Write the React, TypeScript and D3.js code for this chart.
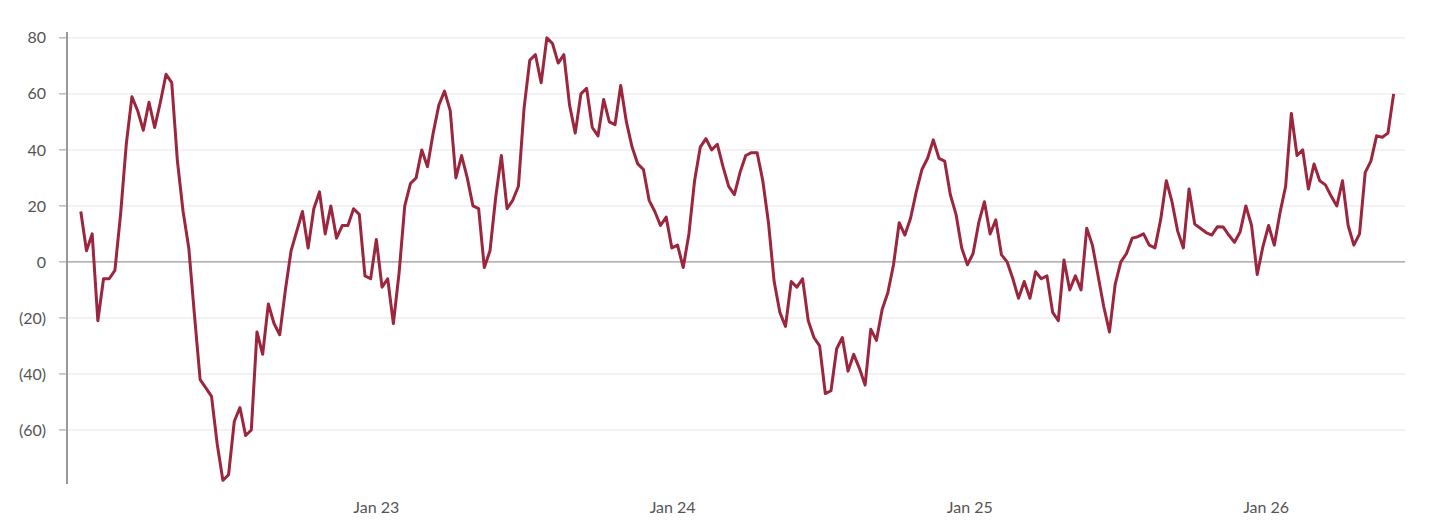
import React from 'react';
import * as d3 from 'd3';

// weekly readings, first week starts Jan 2 2022
const values2022 = [
  18, 4, 10, -21, -6, -6, -3, 17, 42, 59, 54, 47, 57, 48, 57, 67, 64, 36, 18, 5,
  -19, -42, -45, -48, -65, -78, -76, -57, -52, -62, -60, -25, -33, -15, -22, -26,
  -10, 4, 11, 18, 5, 19, 25, 10, 20, 8.5, 13, 13, 19, 17, -5, -6,
];
const values2023 = [
  8, -9, -6, -22, -4, 20, 28, 30, 40, 34, 46, 56, 61, 54, 30, 38, 30, 20, 19, -2,
  4, 23, 38, 19, 22, 27, 55, 72, 74, 64, 80, 78, 71, 74, 56, 46, 60, 62, 48, 45,
  58, 50, 49, 63, 50, 41, 35, 33, 22, 18, 13, 16,
];
const values2024 = [
  5, 6, -2, 10, 29, 41, 44, 40, 42, 34, 27, 24, 32, 38, 39, 39, 29, 14, -7, -18,
  -23, -7, -9, -6, -21, -27, -30, -47, -46, -31, -27, -39, -33, -38, -44, -24,
  -28, -17, -11, -1, 14, 9.6, 15.6, 25, 33, 37, 43.6, 37, 36, 24, 17, 5,
];
const values2025 = [
  -1, 3, 14, 21.5, 10, 15, 2.5, 0, -6, -13, -7, -13, -3.5, -6, -5, -18, -21, 0.7,
  -10, -5, -10, 12, 6, -5, -16, -25, -8, 0, 3, 8.5, 9, 10, 6, 5, 15, 29, 21.5, 11,
  5, 26, 13.5, 12, 10.5, 9.6, 12.6, 12.5, 9.6, 7, 10.8, 20, 13, -4.5,
];
const values2026 = [
  5.5, 13, 6, 17.5, 27, 53, 38, 40, 26, 35, 29, 27.5, 23.5, 20, 29, 13, 6, 10, 32,
  36, 45, 44.5, 46, 60,
];

const yTicks = [80, 60, 40, 20, 0, -20, -40, -60];
const xTickDates = [
  new Date(2023, 0, 1),
  new Date(2024, 0, 1),
  new Date(2025, 0, 1),
  new Date(2026, 0, 1),
];

const seriesStart = new Date(2022, 0, 2);
const allValues = [...values2022, ...values2023, ...values2024, ...values2025, ...values2026];
const data = allValues.map((v, i) => ({ date: d3.timeWeek.offset(seriesStart, i), value: v }));

const width = 1429;
const height = 525;
const left = 67;
const right = 1405;

const fmtY = (v: number) => (v < 0 ? `(${Math.abs(v)})` : `${v}`);
const fmtX = d3.timeFormat('Jan %y');

const App = () => {
  const x = d3
    .scaleTime()
    .domain([new Date(2021, 11, 16), new Date(2026, 5, 21)])
    .range([left, right]);
  const y = d3.scaleLinear().domain([-79.3, 82.1]).range([484, 32]);

  const path = d3
    .line<{ date: Date; value: number }>()
    .x((d) => x(d.date))
    .y((d) => y(d.value))(data);

  return (
    <svg
      width={width}
      height={height}
      style={{ position: 'absolute', left: 0, top: 0, display: 'block', background: '#fff' }}
      fontFamily="Lato, 'Open Sans', sans-serif"
    >
      {yTicks.map((t) => (
        <g key={t}>
          <line
            x1={left}
            x2={right}
            y1={y(t)}
            y2={y(t)}
            stroke={t === 0 ? '#999' : '#e6e6e6'}
            strokeWidth={t === 0 ? 1.2 : 1}
          />
          <line x1={59} x2={left} y1={y(t)} y2={y(t)} stroke="#999" strokeWidth={1} />
          <text x={46} y={y(t)} dy="0.35em" textAnchor="end" fontSize={16} fill="#555">
            {fmtY(t)}
          </text>
        </g>
      ))}
      <line x1={left} x2={left} y1={32} y2={484} stroke="#999" strokeWidth={2} />
      {xTickDates.map((d) => (
        <text key={+d} x={x(d)} y={513} textAnchor="middle" fontSize={16} fill="#555">
          {fmtX(d)}
        </text>
      ))}
      <path d={path ?? ''} fill="none" stroke="#9b263e" strokeWidth={3} strokeLinejoin="round" />
    </svg>
  );
};

export default App;
